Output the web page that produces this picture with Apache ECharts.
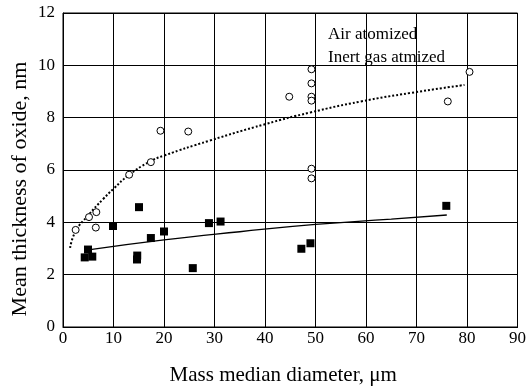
<!DOCTYPE html>
<html>
<head>
<meta charset="utf-8">
<script src="https://cdn.jsdelivr.net/npm/echarts@6/dist/echarts.min.js"></script>
<style>
  html, body { margin: 0; padding: 0; background: #fff; }
  #chart { width: 529px; height: 391px; }
</style>
</head>
<body>
<div id="chart"></div>
<script>
// air atomized powders (open circles)
const airPoints = [
  [2.5, 3.71], [5.15, 4.2], [6.6, 4.39], [6.5, 3.8], [13.1, 5.82], [17.4, 6.3],
  [19.3, 7.5], [24.8, 7.47], [44.8, 8.8],
  [49.2, 9.85], [49.2, 9.31], [49.2, 8.8], [49.2, 8.65], [49.2, 6.05], [49.2, 5.68],
  [76.2, 8.62], [80.5, 9.75]
];
// inert gas atomized powders (filled squares)
const inertPoints = [
  [4.95, 2.96], [4.3, 2.66], [5.8, 2.69], [9.9, 3.86], [15.05, 4.58],
  [14.7, 2.73], [14.65, 2.58], [17.4, 3.4], [20.0, 3.65], [25.7, 2.25],
  [28.9, 3.97], [31.2, 4.03], [47.2, 2.99], [49.0, 3.2], [75.9, 4.63]
];
// trend curves
const airTrend = [
  [1.4, 3.02], [2.5, 3.66], [5, 4.27], [8, 4.9], [10, 5.28], [13, 5.8],
  [17, 6.3], [20, 6.55], [29, 7.12], [40, 7.75], [49, 8.2], [59, 8.62],
  [69, 8.95], [79.5, 9.25]
];
const inertTrend = [
  [4.3, 2.93], [20, 3.33], [35, 3.64], [50, 3.92], [65, 4.12], [76, 4.28]
];
const legendNames = ['Air atomized', 'Inert gas atmized'];

const FONT = '"Liberation Serif", "DejaVu Serif", serif';
const chart = echarts.init(document.getElementById('chart'));

chart.setOption({
  backgroundColor: '#fff',
  animation: false,
  textStyle: { fontFamily: FONT, color: '#000' },
  grid: {
    left: 63, right: 11, top: 13, bottom: 64,
    show: true, borderColor: '#000', borderWidth: 1
  },
  legend: {
    data: legendNames,
    orient: 'vertical',
    left: 317, top: 21,
    itemWidth: 0, itemHeight: 0, itemGap: 6,
    selectedMode: false,
    textStyle: { fontFamily: FONT, fontSize: 17, color: '#000' }
  },
  xAxis: {
    type: 'value', min: 0, max: 90, interval: 10,
    name: 'Mass median diameter, μm',
    nameLocation: 'middle', nameGap: 38,
    nameTextStyle: { fontFamily: FONT, fontSize: 21, color: '#000', padding: [0, 14, 0, 0] },
    axisLine: { show: true, lineStyle: { color: '#000', width: 1 } },
    axisTick: { show: false },
    axisLabel: { fontFamily: FONT, fontSize: 17, color: '#000', margin: 3 },
    splitLine: { show: true, lineStyle: { color: '#000', width: 1 } }
  },
  yAxis: {
    type: 'value', min: 0, max: 12, interval: 2,
    axisLine: { show: true, lineStyle: { color: '#000', width: 1 } },
    axisTick: { show: false },
    axisLabel: { fontFamily: FONT, fontSize: 17, color: '#000', margin: 8 },
    splitLine: { show: true, lineStyle: { color: '#000', width: 1 } }
  },
  graphic: [{
    type: 'text',
    x: 20, y: 189,
    rotation: Math.PI / 2,
    style: {
      text: 'Mean thickness of oxide, nm',
      font: '22px ' + FONT,
      fill: '#000',
      align: 'center',
      verticalAlign: 'middle'
    }
  }],
  series: [
    {
      name: legendNames[0],
      type: 'scatter',
      data: airPoints,
      symbol: 'circle',
      symbolSize: 7,
      itemStyle: { color: '#fff', borderColor: '#000', borderWidth: 1, opacity: 1 },
      z: 5
    },
    {
      name: legendNames[1],
      type: 'scatter',
      data: inertPoints,
      symbol: 'rect',
      symbolSize: 8,
      itemStyle: { color: '#000', opacity: 1 },
      z: 5
    },
    {
      type: 'line',
      data: airTrend,
      smooth: true,
      showSymbol: false,
      lineStyle: { color: '#000', width: 2, type: [2, 2] },
      z: 3
    },
    {
      type: 'line',
      data: inertTrend,
      smooth: true,
      showSymbol: false,
      lineStyle: { color: '#000', width: 1.3 },
      z: 3
    }
  ]
});
</script>
</body>
</html>
